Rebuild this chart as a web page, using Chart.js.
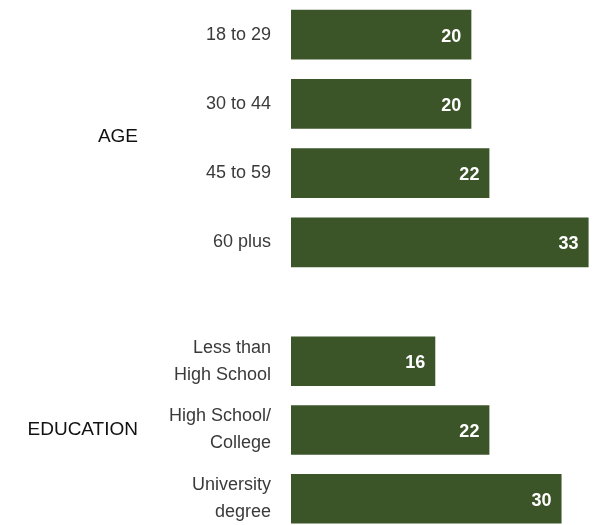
<!DOCTYPE html>
<html>
<head>
<meta charset="utf-8">
<script src="https://cdn.jsdelivr.net/npm/chart.js@4/dist/chart.umd.min.js"></script>
<style>
  html, body { margin: 0; padding: 0; background: #ffffff; overflow: hidden; }
  body { width: 594px; height: 525px; position: relative; }
  .box { position: absolute; left: 0; width: 594px; }
  #age-box { top: 0; height: 277px; }
  #edu-box { top: 327px; height: 206px; }
</style>
</head>
<body>
<div class="box" id="age-box"><canvas id="age-chart"></canvas></div>
<div class="box" id="edu-box"><canvas id="edu-chart"></canvas></div>
<script>
// Data
const ageLabels = ['18 to 29', '30 to 44', '45 to 59', '60 plus'];
const ageValues = [20, 20, 22, 33];

const eduLabels = [['Less than', 'High School'], ['High School/', 'College'], ['University', 'degree']];
const eduValues = [16, 22, 30];

const BAR_COLOR = '#3b5428';
const FONT = "'Liberation Sans', Arial, sans-serif";

// Group title on the left (AGE / EDUCATION), centred on the bars
const groupLabelPlugin = {
    id: 'groupLabel',
    afterDraw(chart, args, opts) {
        const ctx = chart.ctx;
        const area = chart.chartArea;
        ctx.save();
        ctx.font = '19px ' + FONT;
        ctx.fillStyle = '#111111';
        ctx.textAlign = 'right';
        ctx.textBaseline = 'middle';
        ctx.fillText(opts.text, opts.x, (area.top + area.bottom) / 2 + (opts.offset || 0));
        ctx.restore();
    }
};

// White value inside the end of each bar
const valueLabelPlugin = {
    id: 'valueLabel',
    afterDatasetsDraw(chart) {
        const ctx = chart.ctx;
        const meta = chart.getDatasetMeta(0);
        const values = chart.data.datasets[0].data;
        ctx.save();
        ctx.font = 'bold 18px ' + FONT;
        ctx.fillStyle = '#ffffff';
        ctx.textAlign = 'right';
        ctx.textBaseline = 'middle';
        meta.data.forEach((bar, i) => {
            ctx.fillText(values[i], bar.x - 10, bar.y + 2);
        });
        ctx.restore();
    }
};

function makeConfig(labels, values, groupText, groupOffset) {
    return {
        type: 'bar',
        data: {
            labels: labels,
            datasets: [{
                data: values,
                backgroundColor: BAR_COLOR,
                borderWidth: 0,
                categoryPercentage: 1,
                barPercentage: 0.72
            }]
        },
        options: {
            indexAxis: 'y',
            responsive: true,
            maintainAspectRatio: false,
            animation: false,
            layout: { padding: 0 },
            plugins: {
                legend: { display: false },
                tooltip: { enabled: false },
                groupLabel: { text: groupText, x: 138, offset: groupOffset }
            },
            scales: {
                x: {
                    display: false,
                    min: 0,
                    max: 33.6
                },
                y: {
                    grid: { display: false, drawTicks: false },
                    border: { display: false },
                    afterFit(scale) {
                        // fixed label column, and no extra room above/below the bars
                        scale.width = 291;
                        scale.paddingTop = 0;
                        scale.paddingBottom = 0;
                    },
                    ticks: {
                        padding: 20,
                        color: '#3a3a3a',
                        font: { family: FONT, size: 18, lineHeight: 1.5 }
                    }
                }
            }
        },
        plugins: [groupLabelPlugin, valueLabelPlugin]
    };
}

const ageChart = new Chart(document.getElementById('age-chart'), makeConfig(ageLabels, ageValues, 'AGE', -2));
const eduChart = new Chart(document.getElementById('edu-chart'), makeConfig(eduLabels, eduValues, 'EDUCATION', 0));
</script>
</body>
</html>
